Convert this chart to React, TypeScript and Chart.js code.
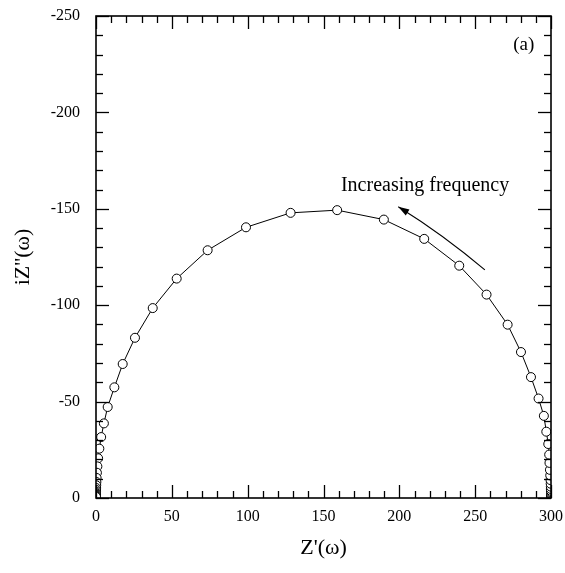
import React, { useEffect, useRef } from "react";
import { Chart, registerables } from "chart.js";
Chart.register(...registerables);

// Z'(ω) values (real part), ordered from low frequency (right) to high frequency (left)
const zReal = [
  300, 300, 300, 300, 300, 300, 300, 300, 299.9, 299.9, 299.8, 299.7, 299.5, 299.3,
  299.0, 298.8, 298.2, 296.9, 295.3, 291.8, 286.8, 280.2, 271.4, 257.5, 239.5, 216.4,
  189.8, 159.0,
  128.3, 98.9, 73.6, 53.2, 37.4, 25.7, 17.6, 12.1, 7.7, 5.2, 3.4, 2.2, 1.4, 0.9,
  0.6, 0.4, 0.25, 0.15, 0.1, 0.06, 0.04, 0.03, 0.02, 0.01, 0.01, 0, 0, 0,
];
// iZ''(ω) values (imaginary part)
const zImag = [
  -0.7, -0.9, -1.2, -1.5, -1.9, -2.4, -3.0, -3.7, -4.7, -5.9, -7.4, -9.3, -11.7, -14.6,
  -18.2, -22.5, -28.0, -34.4, -42.6, -51.6, -62.7, -75.7, -89.9, -105.5, -120.5, -134.4,
  -144.4, -149.3,
  -147.9, -140.4, -128.5, -113.8, -98.5, -83.1, -69.5, -57.4, -47.2, -38.7, -31.6, -25.6,
  -20.6, -16.4, -13.1, -10.4, -8.3, -6.6, -5.2, -4.2, -3.3, -2.6, -2.1, -1.7, -1.3, -1.0,
  -0.8, -0.6,
];

const xRange = [0, 300];
const yRange = [-250, 0];
const majorStep = 50;
const minorStep = 10;

const xTitle = "Z'(ω)";
const yTitle = "iZ''(ω)";
const annotationText = "Increasing frequency";
const annotationPos = [161.5, -161.8];
const arrowStart = [256.4, -118.3];
const arrowEnd = [199.3, -151.1];
const panelLabel = "(a)";
const panelPos = [282, -235];

const FONT = "'Liberation Serif', 'Times New Roman', serif";

const framePlugin = {
  id: "frameTicks",
  afterDatasetsDraw(chart: any) {
    const { ctx, chartArea, scales } = chart;
    const { left, right, top, bottom } = chartArea;
    const xs = scales.x;
    const ys = scales.y;
    ctx.save();
    ctx.strokeStyle = "#000";
    ctx.lineWidth = 1.3;
    const seg = (x1: number, y1: number, x2: number, y2: number) => {
      ctx.beginPath();
      ctx.moveTo(x1, y1);
      ctx.lineTo(x2, y2);
      ctx.stroke();
    };
    for (let v = xs.min; v <= xs.max + 1e-9; v += minorStep) {
      const px = Math.round(xs.getPixelForValue(v)) + 0.5;
      const len = Math.abs(v % majorStep) < 1e-9 ? 13 : 7;
      seg(px, bottom, px, bottom - len);
      seg(px, top, px, top + len);
    }
    for (let v = ys.min; v <= ys.max + 1e-9; v += minorStep) {
      const py = Math.round(ys.getPixelForValue(v)) + 0.5;
      const len = Math.abs(v % majorStep) < 1e-9 ? 13 : 7;
      seg(left, py, left + len, py);
      seg(right, py, right - len, py);
    }
    ctx.lineWidth = 1.6;
    ctx.strokeRect(left, top, right - left, bottom - top);

    // annotation text
    ctx.fillStyle = "#000";
    ctx.font = `20px ${FONT}`;
    ctx.textAlign = "left";
    ctx.textBaseline = "middle";
    ctx.fillText(
      annotationText,
      xs.getPixelForValue(annotationPos[0]),
      ys.getPixelForValue(annotationPos[1])
    );
    ctx.font = `19px ${FONT}`;
    ctx.textAlign = "center";
    ctx.fillText(
      panelLabel,
      xs.getPixelForValue(panelPos[0]),
      ys.getPixelForValue(panelPos[1])
    );

    // curved arrow
    const sx = xs.getPixelForValue(arrowStart[0]);
    const sy = ys.getPixelForValue(arrowStart[1]);
    const ex = xs.getPixelForValue(arrowEnd[0]);
    const ey = ys.getPixelForValue(arrowEnd[1]);
    const mx = (sx + ex) / 2;
    const my = (sy + ey) / 2;
    const dx = ex - sx;
    const dy = ey - sy;
    const L = Math.hypot(dx, dy);
    let pxn = -dy / L;
    let pyn = dx / L;
    if (pxn < 0) {
      pxn = -pxn;
      pyn = -pyn;
    }
    const bow = 4;
    const cx = mx + pxn * bow;
    const cy = my + pyn * bow;
    ctx.lineWidth = 1.1;
    ctx.beginPath();
    ctx.moveTo(sx, sy);
    ctx.quadraticCurveTo(cx, cy, ex, ey);
    ctx.stroke();
    const ang = Math.atan2(ey - cy, ex - cx);
    const hl = 11;
    const hw = 3.5;
    ctx.beginPath();
    ctx.moveTo(ex, ey);
    ctx.lineTo(
      ex - hl * Math.cos(ang) + hw * Math.sin(ang),
      ey - hl * Math.sin(ang) - hw * Math.cos(ang)
    );
    ctx.lineTo(
      ex - hl * Math.cos(ang) - hw * Math.sin(ang),
      ey - hl * Math.sin(ang) + hw * Math.cos(ang)
    );
    ctx.closePath();
    ctx.fill();
    ctx.restore();
  },
};

export default function App() {
  const ref = useRef<HTMLCanvasElement | null>(null);
  useEffect(() => {
    if (!ref.current) return;
    const data = zReal.map((x, i) => ({ x, y: zImag[i] }));
    const chart = new Chart(ref.current, {
      type: "scatter",
      data: {
        datasets: [
          {
            data,
            showLine: true,
            borderColor: "#000",
            borderWidth: 1,
            pointRadius: 4.5,
            pointBorderWidth: 1,
            pointBackgroundColor: "#fff",
            pointBorderColor: "#000",
            tension: 0,
          },
        ],
      },
      options: {
        responsive: false,
        animation: false,
        events: [],
        layout: { padding: { left: 0, top: 16, right: 14, bottom: 0 } },
        plugins: { legend: { display: false }, tooltip: { enabled: false } },
        scales: {
          x: {
            type: "linear",
            min: xRange[0],
            max: xRange[1],
            grid: { display: false, drawTicks: false },
            border: { display: false },
            ticks: {
              stepSize: majorStep,
              padding: 9,
              color: "#000",
              font: { family: FONT, size: 16 },
              maxRotation: 0,
            },
            title: {
              display: true,
              text: xTitle,
              color: "#000",
              font: { family: FONT, size: 22 },
              padding: { top: 0, bottom: 12 },
            },
            afterFit(s: any) {
              s.height = 75;
              s.paddingLeft = 0;
              s.paddingRight = 0;
            },
          },
          y: {
            type: "linear",
            min: yRange[0],
            max: yRange[1],
            reverse: true,
            grid: { display: false, drawTicks: false },
            border: { display: false },
            ticks: {
              stepSize: majorStep,
              padding: 16,
              color: "#000",
              font: { family: FONT, size: 16 },
            },
            title: {
              display: true,
              text: yTitle,
              color: "#000",
              font: { family: FONT, size: 22 },
              padding: { top: 10, bottom: 0 },
            },
            afterFit(s: any) {
              s.width = 96;
              s.paddingTop = 0;
              s.paddingBottom = 0;
            },
          },
        },
      },
      plugins: [framePlugin],
    });
    return () => chart.destroy();
  }, []);
  return (
    <div style={{ position: "fixed", left: 0, top: 0, width: 565, height: 573, background: "#fff" }}>
      <canvas ref={ref} width={565} height={573} style={{ display: "block" }} />
    </div>
  );
}
